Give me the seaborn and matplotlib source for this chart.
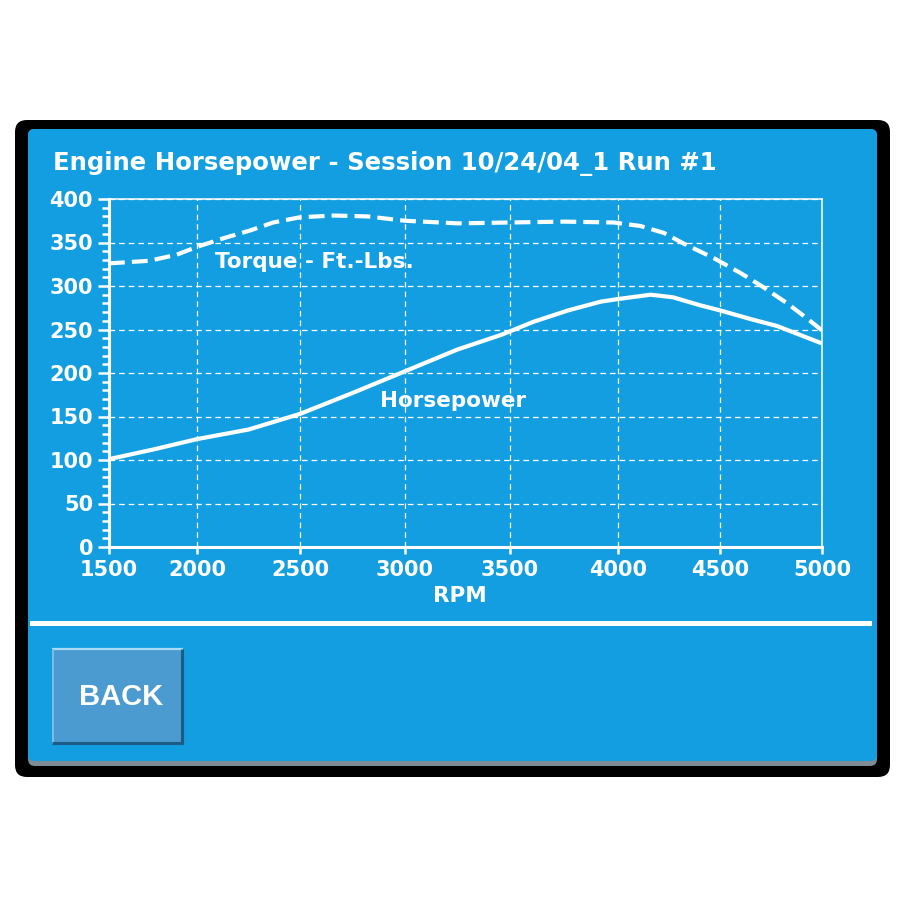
import numpy as np
import pandas as pd
import matplotlib
matplotlib.use("Agg")
import matplotlib.pyplot as plt
from matplotlib.patches import FancyBboxPatch, Rectangle
from matplotlib.ticker import FixedLocator, MultipleLocator
import seaborn as sns

# values
rpm_hp = [1500, 1750, 2000, 2250, 2500, 2750, 3000, 3250, 3460, 3610, 3770, 3920, 4000,
          4160, 4270, 4400, 4500, 4650, 4780, 4890, 5000]
horsepower = [101, 112, 124, 135, 153, 177, 202, 227, 244, 259, 272, 282, 285,
              290, 287, 278, 272, 262, 254, 244, 234]

rpm_tq = [1500, 1730, 1885, 2000, 2130, 2260, 2370, 2500, 2660, 2820, 3000, 3250, 3500,
          3750, 3980, 4110, 4225, 4320, 4470, 4600, 4710, 4830, 4925, 5000]
torque = [326, 329, 336, 345, 355, 364, 373, 379, 381, 380, 375, 372, 373,
          374, 373, 369, 361, 349, 332, 315, 299, 280, 263, 249]

rpm_ticks = [1500, 2000, 2500, 3000, 3500, 4000, 4500, 5000]
y_ticks = [0, 50, 100, 150, 200, 250, 300, 350, 400]

title = "Engine Horsepower - Session 10/24/04_1 Run #1"
torque_label = "Torque - Ft.-Lbs."
hp_label = "Horsepower"

# the screen's rpm axis is not evenly spaced, first step is narrower
tick_px = [109, 197, 300, 405, 510, 618, 720, 822]
scale_rpm = [1000] + rpm_ticks + [5500]
scale_px = [21] + tick_px + [924]

def rpm_fwd(x):
    return np.interp(x, scale_rpm, scale_px)

def rpm_inv(p):
    return np.interp(p, scale_px, scale_rpm)

BLUE = "#129ee0"

sns.set_style("ticks")
plt.rcParams['font.family'] = ['DejaVu Sans']
plt.rcParams['font.weight'] = 'bold'

fig = plt.figure(figsize=(9.08, 9.08), dpi=100)
fig.patch.set_facecolor("white")

# background panel drawn in pixel coordinates
bg = fig.add_axes([0, 0, 1, 1], zorder=0)
bg.set_xlim(0, 908)
bg.set_ylim(908, 0)
bg.axis("off")
bg.add_patch(FancyBboxPatch((15, 120), 875, 657, boxstyle="round,pad=0,rounding_size=12",
                            facecolor="black", edgecolor="none"))
bg.add_patch(FancyBboxPatch((28, 129), 849, 637, boxstyle="round,pad=0,rounding_size=7",
                            facecolor="#7f8c94", edgecolor="none"))
bg.add_patch(FancyBboxPatch((28, 129), 849, 632, boxstyle="round,pad=0,rounding_size=6",
                            facecolor=BLUE, edgecolor="none"))
bg.add_patch(Rectangle((30, 621), 842, 5, facecolor="white", edgecolor="none"))

# BACK button
bg.add_patch(Rectangle((52, 648), 131, 96, facecolor="#4b9ad0", edgecolor="none"))
bg.plot([52, 183], [649, 649], color="#a9dbf6", lw=1.6, solid_capstyle="butt")
bg.plot([53, 53], [649, 744], color="#7fbde4", lw=1.4, solid_capstyle="butt")
bg.plot([52, 183], [743, 743], color="#1b5b84", lw=2.2, solid_capstyle="butt")
bg.plot([182, 182], [649, 744], color="#1b5b84", lw=2.2, solid_capstyle="butt")
bg.text(121, 697, "BACK", color="white", fontsize=21, fontweight="bold",
        family=["Liberation Sans", "DejaVu Sans"], ha="center", va="center")

bg.text(53, 170, title, color="white", fontsize=17.6, fontweight="bold",
        ha="left", va="baseline")

# chart
ax = fig.add_axes([109 / 908, 1 - 547 / 908, 713 / 908, 348 / 908], zorder=1)
ax.set_facecolor("none")

hp_df = pd.DataFrame({"rpm": rpm_hp, "hp": horsepower})
tq_df = pd.DataFrame({"rpm": rpm_tq, "tq": torque})

sns.lineplot(data=hp_df, x="rpm", y="hp", ax=ax, color="white", lw=3, zorder=3)
sns.lineplot(data=tq_df, x="rpm", y="tq", ax=ax, color="white", lw=3,
             linestyle=(0, (3.8, 1.7)), zorder=3)

ax.set_xscale("function", functions=(rpm_fwd, rpm_inv))
ax.set_xlim(1500, 5000)
ax.set_ylim(0, 400)
ax.xaxis.set_major_locator(FixedLocator(rpm_ticks))
ax.xaxis.set_minor_locator(FixedLocator([]))
ax.yaxis.set_major_locator(FixedLocator(y_ticks))
ax.yaxis.set_minor_locator(MultipleLocator(10))
ax.set_xticklabels([str(v) for v in rpm_ticks])
ax.set_yticklabels([str(v) for v in y_ticks])

ax.grid(True, which="major", color="white", lw=0.9, linestyle=(0, (4.5, 3.2)))

for side in ["left", "bottom"]:
    ax.spines[side].set_color("white")
    ax.spines[side].set_linewidth(2.2)
for side in ["top", "right"]:
    ax.spines[side].set_visible(True)
    ax.spines[side].set_color("white")
    ax.spines[side].set_linewidth(1.1)

ax.tick_params(axis="y", which="major", length=8, width=1.8, color="white",
               labelcolor="white", labelsize=15, pad=3.5)
ax.tick_params(axis="y", which="minor", length=5, width=1.8, color="white")
ax.tick_params(axis="x", which="major", length=5, width=1.8, color="white",
               labelcolor="white", labelsize=15, pad=4.5)
for lbl in ax.get_xticklabels() + ax.get_yticklabels():
    lbl.set_fontweight("bold")

ax.set_xlabel("RPM", color="white", fontsize=15.5, fontweight="bold")
ax.xaxis.set_label_coords((460 - 109) / 713, (547 - 586) / 348)
ax.set_ylabel("")

ax.text((215 - 109) / 713, (547 - 262) / 348, torque_label, transform=ax.transAxes,
        color="white", fontsize=15.5, fontweight="bold", ha="left", va="center")
ax.text((380 - 109) / 713, (547 - 401) / 348, hp_label, transform=ax.transAxes,
        color="white", fontsize=15.5, fontweight="bold", ha="left", va="center")

fig.savefig("out.png", dpi=100, facecolor="white")
